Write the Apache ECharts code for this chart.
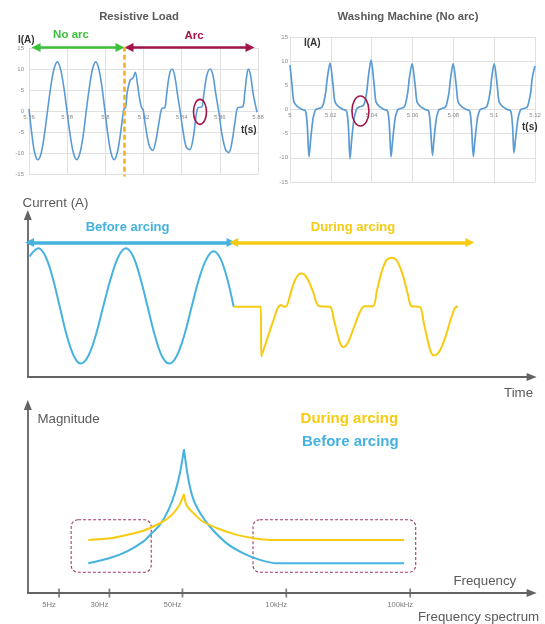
<!DOCTYPE html>
<html>
<head>
<meta charset="utf-8">
<script src="https://cdn.jsdelivr.net/npm/echarts@6/dist/echarts.min.js"></script>
<style>html,body{margin:0;padding:0;background:#fff}#c{width:545px;height:624px}</style>
</head>
<body>
<div id="c"></div>
<script>
// ---------- Data ----------
// Top-left: Resistive Load, current I(A) vs t(s)
const resistiveCurrent = [
[5.7600,0.5],[5.7615,-5.5],[5.7630,-10.0],[5.7647,-11.6],[5.7664,-10.0],[5.7680,-5.8],[5.7697,0],[5.7714,5.8],[5.7731,10.0],[5.7748,11.7],[5.7765,10.0],[5.7782,5.8],[5.7799,0],[5.7816,-5.8],[5.7833,-10.0],[5.7850,-11.6],[5.7867,-10.0],[5.7884,-5.8],[5.7900,0],[5.7917,5.8],[5.7933,10.0],[5.7950,11.7],[5.7966,10.0],[5.7982,5.8],[5.7998,0],[5.8014,-5.8],[5.8030,-10.0],[5.8046,-11.6],[5.8062,-10.0],[5.8078,-5.8],[5.8094,-0.3],
[5.8098,0.5],[5.8106,0.8],[5.8115,4.5],[5.8130,7.3],[5.8145,7.9],[5.8157,9.2],[5.8168,6.5],[5.8180,2.8],[5.8190,0.8],[5.8198,0.3],[5.8212,-4.0],[5.8230,-8.2],[5.8248,-9.4],[5.8265,-7.0],[5.8282,-2.5],[5.8296,0.6],[5.8312,0.8],[5.8320,3.5],[5.8335,8.5],[5.8349,10.0],[5.8363,8.5],[5.8378,4.0],[5.8392,0],[5.8408,-5.0],[5.8424,-8.6],[5.8442,-9.2],[5.8460,-6.5],[5.8476,-1.0],[5.8486,0.8],[5.8506,1.0],[5.8516,4.0],[5.8532,8.5],[5.8549,10.0],[5.8564,8.5],[5.8579,4.0],[5.8594,0],[5.8611,-5.5],[5.8630,-9.2],[5.8647,-9.9],[5.8663,-7.5],[5.8680,-2.5],[5.8694,0.8],[5.8720,1.0],[5.8730,4.0],[5.8740,8.0],[5.8749,10.0],[5.8761,8.5],[5.8775,4.0],[5.8795,-0.3]
];
const resistiveTicks = {min: 5.76, max: 5.88, step: 0.02};
const arcOnset = 5.8098;            // orange dashed separator
const noArcSpan = [5.7637, 5.8077]; // green arrow
const arcSpan = [5.8124, 5.8758];   // crimson arrow
const resistiveMark = [5.8496, -0.2];

// Top-right: Washing Machine (No arc)
const washingCurrent = [
[5.0000,9.2],[5.0010,5.0],[5.0019,1.6],[5.0034,0.7],[5.0059,0.0],[5.0076,-0.3],[5.0085,-3.6],[5.0093,-9.8],[5.0101,-6.3],[5.0113,-1.8],[5.0121,-0.5],[5.0127,0.0],[5.0157,0.5],[5.0166,1.6],[5.0175,3.6],[5.0183,6.6],[5.0196,9.6],
[5.0211,5.0],[5.0220,1.6],[5.0235,0.7],[5.0260,0.0],[5.0277,-0.3],[5.0286,-3.6],[5.0294,-10.2],[5.0302,-6.3],[5.0314,-1.8],[5.0322,-0.5],[5.0328,0.2],[5.0343,0.6],[5.0358,0.8],[5.0367,1.6],[5.0376,3.7],[5.0384,6.8],[5.0397,10.2],
[5.0412,5.2],[5.0421,1.6],[5.0436,0.7],[5.0461,0.0],[5.0478,-0.3],[5.0487,-3.6],[5.0495,-9.8],[5.0503,-6.3],[5.0515,-1.8],[5.0523,-0.5],[5.0529,0.0],[5.0559,0.5],[5.0568,1.6],[5.0577,3.6],[5.0585,6.6],[5.0598,9.5],
[5.0613,5.0],[5.0622,1.6],[5.0637,0.7],[5.0662,0.0],[5.0679,-0.3],[5.0688,-3.6],[5.0698,-9.5],[5.0705,-6.3],[5.0717,-1.8],[5.0725,-0.5],[5.0731,0.0],[5.0761,0.5],[5.0770,1.6],[5.0779,3.6],[5.0787,6.6],[5.0799,9.5],
[5.0814,5.0],[5.0823,1.6],[5.0838,0.7],[5.0863,0.0],[5.0880,-0.3],[5.0889,-3.6],[5.0898,-9.7],[5.0906,-6.3],[5.0918,-1.8],[5.0926,-0.5],[5.0932,0.0],[5.0962,0.5],[5.0971,1.6],[5.0980,3.6],[5.0988,6.6],[5.1000,9.5],
[5.1015,5.0],[5.1024,1.6],[5.1039,0.7],[5.1064,0.0],[5.1081,-0.3],[5.1090,-3.4],[5.1097,-9.0],[5.1105,-6.0],[5.1117,-1.8],[5.1125,-0.5],[5.1131,0.0],[5.1161,0.5],[5.1170,1.6],[5.1179,3.6],[5.1187,6.6],[5.1200,9.0]
];
const washingTicks = {min: 5.00, max: 5.12, step: 0.02};
const washingMark = [5.0345, -0.3];
const currentTicks = {min: -15, max: 15, step: 5};

// Middle: schematic current vs time (time in ms)
const beforeArcingCurrent = [
[0.4,8.6],[2.4,10.0],[4.05,8.6],[5.7,4.9],[7.3,0],[8.9,-4.9],[10.5,-8.4],[12.1,-9.7],[13.8,-8.4],[15.5,-4.9],[17.2,0],[19.0,5.0],[20.7,8.6],[22.4,10.0],[24.05,8.6],[25.7,4.9],[27.35,0],[29.0,-4.9],[30.6,-8.4],[32.3,-9.7],[34.0,-8.4],[35.7,-4.9],[37.4,0],[39.1,4.8],[40.8,8.2],[42.4,9.5],[44.0,8.2],[45.6,4.6],[47.0,0]
];
const duringArcingCurrent = [
[47.0,0],[53.2,0],[53.3,-8.5],[54.2,-6.5],[55.2,-4.2],[56.2,-2.0],[57.0,-0.3],[57.8,0.3],[58.5,0.0],[59.2,0.3],[60.1,2.6],[61.0,4.6],[61.8,5.5],[62.5,5.7],[63.3,5.4],[64.1,4.4],[65.1,2.6],[66.0,0.5],[66.6,0.1],[69.0,0.0],[69.9,-2.3],[70.8,-5.0],[71.4,-6.4],[72.0,-6.9],[72.7,-6.6],[73.5,-5.4],[74.7,-3.0],[76.0,-0.6],[76.9,0.1],[78.8,0.1],[79.7,2.8],[80.7,5.8],[81.7,7.8],[82.4,8.3],[83.1,8.4],[83.8,8.2],[84.6,7.4],[85.7,5.2],[86.8,2.0],[87.6,0.1],[89.5,0.0],[90.4,-2.8],[91.3,-5.8],[92.0,-7.7],[92.6,-8.3],[93.3,-8.2],[94.2,-7.3],[95.4,-5.0],[96.6,-2.0],[97.5,-0.2],[98.2,0.1]
];
const beforeSpan = [0.4, 46.4];
const duringSpan = [47.0, 100.9];
const spanLevel = 11.0;

// Bottom: schematic frequency spectrum (position along the frequency axis, magnitude)
const spectrumBeforeLeft = [[12.0,15.8],[16.3,18.6],[19.6,22.0],[22.9,27.3],[24.6,31.8],[26.2,36.2],[27.9,44.1],[29.2,53.2],[30.2,63.8],[31.0,76.4]];
const spectrumBeforeRight = [[31.0,76.4],[31.9,60.1],[32.9,49.5],[34.2,42.6],[36.2,35.1],[39.5,26.4],[42.8,21.1],[46.1,17.6],[49.4,15.8],[56.0,15.8],[74.7,15.8]];
const spectrumDuringLeft = [[12.0,28.2],[16.3,29.1],[19.6,30.9],[22.9,33.1],[26.2,37.1],[28.2,40.6],[29.9,45.9],[30.7,50.5],[31.0,52.7]];
const spectrumDuringRight = [[31.0,52.7],[31.5,46.8],[32.9,42.4],[34.8,37.9],[38.1,33.9],[41.5,30.9],[44.8,29.1],[48.1,28.2],[56.0,28.2],[74.7,28.2]];
const freqTickLabels = ['5Hz','30Hz','50Hz','10kHz','100kHz'];
const freqTickPos = [6.2, 16.2, 30.7, 51.3, 75.9];
const bandBoxes = [[8.6, 39.0, 24.5, 11.0], [44.7, 39.0, 77.0, 11.0]];

// ---------- Styles ----------
const FONT = '"Liberation Sans", Arial, Helvetica, sans-serif';
const C = {
  excel: '#5b9bd5', grid: '#e0e0e0', tick: '#8c8c8c',
  blue: '#45b2df', yellow: '#f6cb12', green: '#3cc13c', crimson: '#a3154a',
  orange: '#f5b022', box: '#a4356e', axis: '#636363', text: '#5a5a5a'
};

// top grids: [left, top, width, height]
const topGrids = [[29, 48, 229, 126], [290, 37, 245, 145]];
// vertical offset that puts the time labels on the zero line (half the plot height, y range is symmetric)
function zeroOffset(g) { return -g[3] * (0 - currentTicks.min) / (currentTicks.max - currentTicks.min); }

function topX(idx, t, labelMargin) {
  return {
    gridIndex: idx, type: 'value', min: t.min, max: t.max, interval: t.step,
    position: 'bottom', offset: zeroOffset(topGrids[idx]),
    axisLine: {show: false, onZero: false},
    axisTick: {show: false},
    axisLabel: {fontSize: 6, color: C.tick, margin: labelMargin, fontFamily: FONT, showMinLabel: true, showMaxLabel: true},
    splitLine: {show: true, lineStyle: {color: C.grid, width: 1}}
  };
}
function topY(idx, labelMargin) {
  return {
    gridIndex: idx, type: 'value', min: currentTicks.min, max: currentTicks.max, interval: currentTicks.step,
    axisLine: {show: false}, axisTick: {show: false},
    axisLabel: {fontSize: 6, color: C.tick, margin: labelMargin, fontFamily: FONT},
    splitLine: {show: true, lineStyle: {color: C.grid, width: 1}}
  };
}
function arrowAxis(idx, min, max) {
  return {
    gridIndex: idx, type: 'value', min: min, max: max,
    axisLine: {show: true, onZero: false, symbol: ['none', 'triangle'], symbolSize: [8, 10],
      lineStyle: {color: C.axis, width: 1.8}},
    axisTick: {show: false}, axisLabel: {show: false}, splitLine: {show: false}
  };
}
function curve(xi, data, color, width, smooth) {
  return {type: 'line', xAxisIndex: xi, yAxisIndex: xi, data: data, showSymbol: false, symbol: 'none',
    smooth: smooth, lineStyle: {color: color, width: width}, silent: true, z: 3};
}
function arrowLines(xi, items, width, size) {
  return {type: 'lines', coordinateSystem: 'cartesian2d', xAxisIndex: xi, yAxisIndex: xi,
    symbol: ['triangle', 'triangle'], symbolSize: size, clip: false, silent: true, z: 4,
    lineStyle: {width: width, opacity: 1, curveness: 0},
    data: items.map(it => ({coords: it.coords, lineStyle: {color: it.color}}))};
}
function ellipseMark(xi, point, rx, ry) {
  return {type: 'custom', xAxisIndex: xi, yAxisIndex: xi, data: [point], clip: false, silent: true, z: 6,
    renderItem: function (params, api) {
      const p = api.coord([api.value(0), api.value(1)]);
      return {type: 'ellipse', shape: {cx: p[0], cy: p[1], rx: rx, ry: ry},
        style: {fill: 'none', stroke: C.crimson, lineWidth: 1.6}};
    }};
}
function txt(text, x, y, size, color, bold, align) {
  return {type: 'text', x: x, y: y, silent: true, z: 20,
    style: {text: text, font: (bold ? 'bold ' : '') + size + 'px ' + FONT, fill: color,
      textAlign: align || 'left', textVerticalAlign: 'middle'}};
}

const chart = echarts.init(document.getElementById('c'), null, {renderer: 'canvas'});
chart.setOption({
  animation: false,
  backgroundColor: '#ffffff',
  textStyle: {fontFamily: FONT},
  grid: [
    {left: topGrids[0][0], top: topGrids[0][1], width: topGrids[0][2], height: topGrids[0][3]},
    {left: topGrids[1][0], top: topGrids[1][1], width: topGrids[1][2], height: topGrids[1][3]},
    {left: 27.8, top: 215, width: 503.8, height: 162},
    {left: 27.8, top: 405, width: 503.8, height: 188}
  ],
  xAxis: [topX(0, resistiveTicks, 3), topX(1, washingTicks, 3), arrowAxis(2, 0, 115), arrowAxis(3, 0, 100)],
  yAxis: [topY(0, 5), topY(1, 2), arrowAxis(2, -12, 15.7), arrowAxis(3, 0, 100)],
  series: [
    curve(0, resistiveCurrent, C.excel, 1.6, 0.35),
    curve(1, washingCurrent, C.excel, 1.7, 0.3),
    {type: 'lines', coordinateSystem: 'cartesian2d', xAxisIndex: 0, yAxisIndex: 0, clip: false, silent: true, z: 5,
      symbol: ['none', 'none'], lineStyle: {color: C.orange, width: 2.6, type: [5, 3], opacity: 1},
      data: [{coords: [[arcOnset, 15.3], [arcOnset, -15.6]]}]},
    arrowLines(0, [
      {coords: [[noArcSpan[0], 15.1], [noArcSpan[1], 15.1]], color: C.green},
      {coords: [[arcSpan[0], 15.1], [arcSpan[1], 15.1]], color: C.crimson}
    ], 2.6, 9),
    ellipseMark(0, resistiveMark, 6.5, 12.5),
    ellipseMark(1, washingMark, 8.5, 15),
    curve(2, beforeArcingCurrent, C.blue, 2, 0.35),
    curve(2, duringArcingCurrent, C.yellow, 2, 0.3),
    arrowLines(2, [
      {coords: [[beforeSpan[0], spanLevel], [beforeSpan[1], spanLevel]], color: C.blue},
      {coords: [[duringSpan[0], spanLevel], [duringSpan[1], spanLevel]], color: C.yellow}
    ], 3.5, 9),
    curve(3, spectrumBeforeLeft, C.blue, 2, 0.3),
    curve(3, spectrumBeforeRight, C.blue, 2, 0.3),
    curve(3, spectrumDuringLeft, C.yellow, 2, 0.3),
    curve(3, spectrumDuringRight, C.yellow, 2, 0.3),
    {type: 'custom', xAxisIndex: 3, yAxisIndex: 3, data: bandBoxes, clip: false, silent: true, z: 2,
      encode: {x: [0, 2], y: [1, 3]},
      renderItem: function (params, api) {
        const p1 = api.coord([api.value(0), api.value(1)]);
        const p2 = api.coord([api.value(2), api.value(3)]);
        return {type: 'rect', shape: {x: p1[0], y: p1[1], width: p2[0] - p1[0], height: p2[1] - p1[1], r: 7},
          style: {fill: 'none', stroke: C.box, lineWidth: 1.1, lineDash: [3, 2]}};
      }},
    {type: 'scatter', xAxisIndex: 3, yAxisIndex: 3, clip: false, silent: true, z: 6,
      symbol: 'rect', symbolSize: [1.8, 9], itemStyle: {color: C.axis},
      label: {show: true, position: 'bottom', distance: 3, offset: [-10, 0], formatter: '{b}',
        fontSize: 7.7, color: C.text, fontFamily: FONT},
      data: freqTickPos.map((p, i) => ({name: freqTickLabels[i], value: [p, 0]}))}
  ],
  graphic: [
    txt('Resistive Load', 139, 17, 11.3, C.text, true, 'center'),
    txt('Washing Machine (No arc)', 408, 17, 11.3, C.text, true, 'center'),
    txt('I(A)', 18, 40, 10, '#333', true),
    txt('No arc', 71, 35, 11.5, C.green, true, 'center'),
    txt('Arc', 194, 36, 11.5, C.crimson, true, 'center'),
    txt('t(s)', 241, 130, 10, '#333', true),
    txt('I(A)', 304, 43, 10, '#333', true),
    txt('t(s)', 522, 127, 10, '#333', true),
    txt('Current (A)', 22.6, 203, 13.3, C.text, false),
    txt('Before arcing', 127.6, 227, 13, C.blue, true, 'center'),
    txt('During arcing', 353, 227, 13, C.yellow, true, 'center'),
    txt('Time', 504, 393, 13.3, C.text, false),
    txt('Magnitude', 37.5, 419, 13.3, C.text, false),
    txt('During arcing', 300.6, 419, 15, C.yellow, true),
    txt('Before arcing', 302, 442, 15, C.blue, true),
    txt('Frequency', 453.4, 581.7, 13.3, C.text, false),
    txt('Frequency spectrum', 418, 617, 13.3, C.text, false)
  ]
});
</script>
</body>
</html>
